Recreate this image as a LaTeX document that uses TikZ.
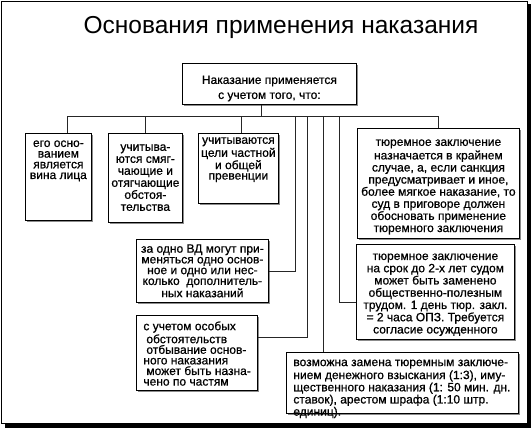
\documentclass[tikz,border=0pt]{standalone}
\usepackage{fontspec}
\setmainfont{Liberation Sans}
\newfontfamily\heavyfont[FakeBold=0.7]{Liberation Sans}
\usetikzlibrary{shadows}

\tikzset{
  box/.style={draw=black, fill=white, line width=0.8pt, inner sep=0pt, anchor=north west,
    general shadow={fill=black!45, shadow xshift=1.6pt, shadow yshift=-1.6pt}},
  link/.style={draw=black!85, line width=0.8pt},
}
% #1 width, #2 height, #3 leading, #4 top pad, #5 alignment, #6 lines
\newcommand{\boxtext}[6]{\parbox[c][#2][t]{#1}{\heavyfont\fontsize{12}{#3}\selectfont#5\vspace*{#4}\strut #6\par}}

\begin{document}
\begin{tikzpicture}[x=1pt, y=-1pt]
	\useasboundingbox (0,0) rectangle (532,428);
	\fill[black] (4.5,4.5) rectangle (531,427.5);
	\draw[fill=white, line width=0.8pt] (1.5,1.5) rectangle (527.5,423.5);
	\node[anchor=base] (title) at (281,34) {\fontsize{24.5}{24.5}\selectfont Основания применения наказания};
	%
	\node[box] (top) at (182,63) {\boxtext{174pt}{41pt}{15pt}{10pt}{\centering}{Наказание применяется\\с учетом того, что:}};
	\node[box] (b1) at (25,133) {\boxtext{66pt}{87pt}{10.7pt}{6pt}{\centering}{его осно-\\ванием\\является\\вина лица}};
	\node[box] (b2) at (108,133) {\boxtext{74pt}{89pt}{12pt}{9pt}{\centering}{учитыва-\\ются смяг-\\чающие и\\отягчающие\\обстоя-\\тельства}};
	\node[box] (b3) at (198,133) {\boxtext{80pt}{70pt}{10.5pt}{3pt}{\centering}{учитываются\\цели частной\\и общей\\превенции}};
	\node[box] (b4) at (357,128) {\boxtext{162pt}{110pt}{12.1pt}{9pt}{\centering}{тюремное заключение\\назначается в крайнем\\случае, а, если санкция\\предусматривает и иное,\\более мягкое наказание, то\\суд в приговоре должен\\обосновать применение\\тюремного заключения}};
	\node[box] (b5) at (136,239) {\boxtext{132pt}{63pt}{10.75pt}{5pt}{\centering}{за одно ВД могут при-\\меняться одно основ-\\ное и одно или нес-\\колько~ дополнитель-\\ных наказаний}};
	\node[box] (b6) at (136,315) {\boxtext{121pt}{75pt}{10.6pt}{6pt}{\raggedright\leftskip=7pt}{с учетом особых\\\hspace*{3pt}обстоятельств\\\hspace*{3pt}отбывание основ-\\ного наказания\\\hspace*{3pt}может быть назна-\\чено по частям}};
	\node[box] (b7) at (356,244) {\boxtext{158pt}{95pt}{12.25pt}{7pt}{\centering}{тюремное заключение\\на срок до 2-х лет судом\\может быть заменено\\общественно-полезным\\трудом. 1 день тюр. закл.\\= 2 часа ОПЗ. Требуется\\согласие осужденного}};
	\node[box] (b8) at (286,352) {\boxtext{232pt}{61pt}{11pt}{6pt}{\raggedright\leftskip=7pt}{возможна замена тюремным заключе-\\нием денежного взыскания (1:3), иму-\\щественного наказания (1: 50 мин. дн.\\ставок), арестом шрафа (1:10 штр.\\единиц).}};
	%
	\coordinate (stem) at (261,116);
	\coordinate (j1) at (67,116);
	\coordinate (j2) at (145,116);
	\coordinate (j3) at (241,116);
	\coordinate (j4) at (295,116);
	\coordinate (j5) at (307,116);
	\coordinate (j6) at (323,116);
	\coordinate (j7) at (339,116);
	\draw[link] (top.south -| stem) -- (stem);
	\draw[link] (j1) -- (b4.north |- j1) -- (b4.north);
	\draw[link] (j1) -- (j1 |- b1.north);
	\draw[link] (j2) -- (j2 |- b2.north);
	\draw[link] (j3) -- (j3 |- b3.north);
	\draw[link] (j4) |- (b5.east);
	\draw[link] (j5) |- ([yshift=15.5pt]b6.east);
	\draw[link] (j6) -- (j6 |- b8.north);
	\draw[link] (j7) |- ([yshift=-10pt]b7.west);
\end{tikzpicture}
\end{document}
